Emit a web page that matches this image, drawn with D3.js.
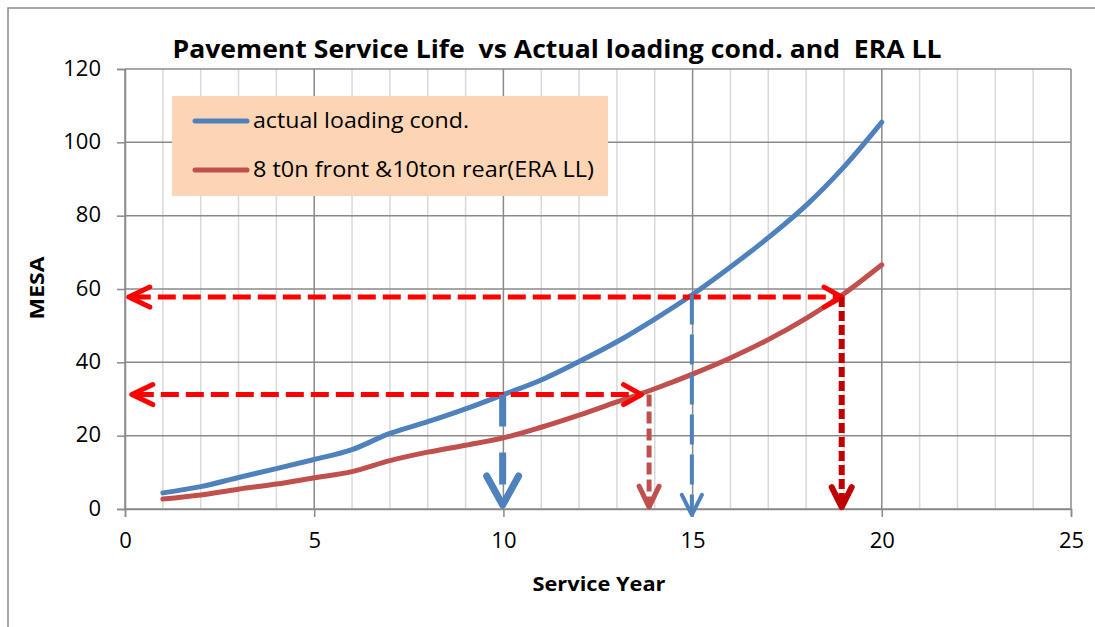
<!DOCTYPE html>
<html>
<head>
<meta charset="utf-8">
<script src="https://cdn.jsdelivr.net/npm/d3@7"></script>
<style>
  body { margin: 0; background: #fff; }
  text { font-family: "Open Sans", "DejaVu Sans", sans-serif; fill: #000; }
</style>
</head>
<body>
<div id="chart"></div>
<script>
// series values
const years = [1, 2, 3, 4, 5, 6, 7, 8, 9, 10, 11, 12, 13, 14, 15, 16, 17, 18, 19, 20];
const actualLoading = [4.4, 6.1, 8.6, 11.0, 13.5, 16.2, 20.6, 23.8, 27.3, 31.2, 35.2, 40.2, 45.6, 51.8, 58.5, 66.0, 74.0, 82.8, 93.3, 105.5];
const eraLL = [2.7, 3.8, 5.4, 6.8, 8.5, 10.2, 13.2, 15.5, 17.4, 19.4, 22.3, 25.6, 29.2, 32.8, 36.8, 41.2, 46.2, 52.0, 58.7, 66.6];

const seriesNames = ["actual loading cond.", "8 t0n front &10ton rear(ERA LL)"];
const xTicks = [0, 5, 10, 15, 20, 25];
const yTicks = [0, 20, 40, 60, 80, 100, 120];

// annotation arrows (data units)
const hArrows = [
  {y: 57.8, x0: 0.1, x1: 18.95},
  {y: 31.2, x0: 0.18, x1: 13.65}
];
const vArrows = [
  {x: 9.98, y0: 31.2, y1: 1.1, color: "#4f81bd", width: 7, dash: "32,26", hx: 16, hy: 29},
  {x: 13.85, y0: 31.2, y1: 0.5, color: "#c0504d", width: 5, dash: "12,5", hx: 10, hy: 21},
  {x: 14.98, y0: 58.5, y1: -1.6, color: "#4f81bd", width: 4, dash: "30,10", hx: 10, hy: 20},
  {x: 18.94, y0: 57.8, y1: 0.5, color: "#c00000", width: 6, dash: "10,4", hx: 10, hy: 20}
];

const W = 1095, H = 627;
const plot = {left: 125, right: 1071, top: 69, bottom: 509};

const svg = d3.select("#chart").append("svg")
  .attr("width", W)
  .attr("height", H);

// chart area border (cropped at right and bottom)
svg.append("rect")
  .attr("x", 8).attr("y", 8)
  .attr("width", W + 20).attr("height", H + 20)
  .attr("fill", "#fff")
  .attr("stroke", "#8c8c8c")
  .attr("stroke-width", 1.5);

const x = d3.scaleLinear().domain([0, 25]).range([plot.left, plot.right]);
const y = d3.scaleLinear().domain([0, 120]).range([plot.bottom, plot.top]);

// minor vertical grid
svg.append("g").selectAll("line")
  .data(d3.range(1, 25).filter(d => d % 5 !== 0))
  .enter().append("line")
    .attr("x1", d => x(d)).attr("x2", d => x(d))
    .attr("y1", plot.top).attr("y2", plot.bottom)
    .attr("stroke", "#d9d9d9")
    .attr("stroke-width", 1.5);

// major grid
svg.append("g").selectAll("line")
  .data(xTicks)
  .enter().append("line")
    .attr("x1", d => x(d)).attr("x2", d => x(d))
    .attr("y1", plot.top).attr("y2", plot.bottom)
    .attr("stroke", "#8a8a8a")
    .attr("stroke-width", 1.5);

svg.append("g").selectAll("line")
  .data(yTicks)
  .enter().append("line")
    .attr("x1", plot.left).attr("x2", plot.right)
    .attr("y1", d => y(d)).attr("y2", d => y(d))
    .attr("stroke", "#8a8a8a")
    .attr("stroke-width", 1.5);

// axes
const xAxis = svg.append("g")
  .attr("transform", `translate(0,${plot.bottom})`)
  .call(d3.axisBottom(x).tickValues(xTicks).tickSize(8).tickPadding(10));
const yAxis = svg.append("g")
  .attr("transform", `translate(${plot.left},0)`)
  .call(d3.axisLeft(y).tickValues(yTicks).tickSize(8).tickPadding(16));

[xAxis, yAxis].forEach(a => {
  a.select(".domain").attr("stroke", "#8a8a8a").attr("stroke-width", 1.5);
  a.selectAll(".tick line").attr("stroke", "#8a8a8a").attr("stroke-width", 1.5);
  a.selectAll(".tick text")
    .style("font-family", '"Open Sans", sans-serif')
    .style("font-size", "22px")
    .attr("fill", "#000");
});
xAxis.selectAll(".tick text").attr("dy", "0.95em");
yAxis.selectAll(".tick text").attr("dy", "0.28em");

// series
const line = d3.line()
  .x(d => x(d[0]))
  .y(d => y(d[1]))
  .curve(d3.curveCatmullRom.alpha(0.5));

const series = [
  {name: seriesNames[0], values: actualLoading, color: "#4f81bd"},
  {name: seriesNames[1], values: eraLL, color: "#c0504d"}
];

svg.append("g").selectAll("path")
  .data(series)
  .enter().append("path")
    .attr("d", s => line(years.map((yr, i) => [yr, s.values[i]])))
    .attr("fill", "none")
    .attr("stroke", s => s.color)
    .attr("stroke-width", 5)
    .attr("stroke-linecap", "round")
    .attr("stroke-linejoin", "round");

// arrows
function chevron(tx, ty, dx1, dy1, dx2, dy2) {
  return `M${tx + dx1},${ty + dy1}L${tx},${ty}L${tx + dx2},${ty + dy2}`;
}

const arrows = svg.append("g");

hArrows.forEach(a => {
  const yy = y(a.y), xl = x(a.x0), xr = x(a.x1);
  arrows.append("line")
    .attr("x1", xl + 4).attr("x2", xr - 4)
    .attr("y1", yy).attr("y2", yy)
    .attr("stroke", "#ff0000")
    .attr("stroke-width", 5)
    .attr("stroke-dasharray", "18,7");
  arrows.append("path")
    .attr("d", chevron(xl, yy, 21, -10, 21, 10) + chevron(xr, yy, -18, -10, -18, 10))
    .attr("fill", "none")
    .attr("stroke", "#ff0000")
    .attr("stroke-width", 5)
    .attr("stroke-linecap", "round")
    .attr("stroke-linejoin", "round");
});

vArrows.forEach(a => {
  const xx = x(a.x), yt = y(a.y0), yb = y(a.y1);
  arrows.append("line")
    .attr("x1", xx).attr("x2", xx)
    .attr("y1", yt).attr("y2", yb - 4)
    .attr("stroke", a.color)
    .attr("stroke-width", a.width)
    .attr("stroke-dasharray", a.dash);
  arrows.append("path")
    .attr("d", chevron(xx, yb, -a.hx, -a.hy, a.hx, -a.hy))
    .attr("fill", "none")
    .attr("stroke", a.color)
    .attr("stroke-width", a.width)
    .attr("stroke-linecap", "round")
    .attr("stroke-linejoin", "round");
});

// legend
const legend = svg.append("g");
legend.append("rect")
  .attr("x", 172).attr("y", 96)
  .attr("width", 436).attr("height", 100)
  .attr("fill", "#fcd5b5");

const legendRows = legend.selectAll("g.row")
  .data(series)
  .enter().append("g")
    .attr("class", "row")
    .attr("transform", (d, i) => `translate(0,${121 + i * 49})`);

legendRows.append("line")
  .attr("x1", 195).attr("x2", 247)
  .attr("y1", 0).attr("y2", 0)
  .attr("stroke", d => d.color)
  .attr("stroke-width", 5)
  .attr("stroke-linecap", "round");

legendRows.append("text")
  .attr("x", 253).attr("y", 7)
  .style("font-size", "21px")
  .attr("textLength", (d, i) => i === 0 ? 216 : 341)
  .attr("lengthAdjust", "spacingAndGlyphs")
  .text(d => d.name);

// titles
svg.append("text")
  .attr("x", 557).attr("y", 58)
  .attr("text-anchor", "middle")
  .style("font-size", "25px")
  .style("font-weight", "bold")
  .style("white-space", "pre")
  .attr("textLength", 769)
  .attr("lengthAdjust", "spacingAndGlyphs")
  .text("Pavement Service Life  vs Actual loading cond. and  ERA LL");

svg.append("text")
  .attr("x", 599).attr("y", 591)
  .attr("text-anchor", "middle")
  .style("font-size", "20px")
  .style("font-weight", "bold")
  .attr("textLength", 133)
  .attr("lengthAdjust", "spacingAndGlyphs")
  .text("Service Year");

svg.append("text")
  .attr("transform", "translate(44,288) rotate(-90)")
  .attr("text-anchor", "middle")
  .style("font-size", "20px")
  .style("font-weight", "bold")
  .attr("textLength", 63)
  .attr("lengthAdjust", "spacingAndGlyphs")
  .text("MESA");
</script>
</body>
</html>
